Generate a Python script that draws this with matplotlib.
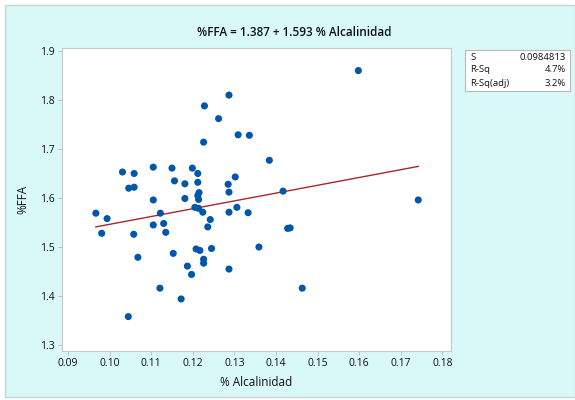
import numpy as np
import matplotlib
matplotlib.use("Agg")
import matplotlib.pyplot as plt
from matplotlib.patches import Rectangle

# data
alcalinidad = [0.1598, 0.1287, 0.1228, 0.1262, 0.1309, 0.1336, 0.1226, 0.1384,
               0.1105, 0.1031, 0.1059, 0.1150, 0.1199, 0.1212, 0.1046, 0.1059,
               0.1156, 0.1181, 0.1212, 0.1302, 0.1285, 0.1105, 0.1181, 0.1215,
               0.1212, 0.1214, 0.1287, 0.0967, 0.0994, 0.1122, 0.1105, 0.1130,
               0.1205, 0.1214, 0.1224, 0.1306, 0.1287, 0.1333, 0.1242, 0.1236,
               0.0981, 0.1058, 0.1135, 0.1068, 0.1153, 0.1121, 0.1172, 0.1045,
               0.1208, 0.1217, 0.1245, 0.1226, 0.1226, 0.1187, 0.1197, 0.1287,
               0.1359, 0.1417, 0.1742, 0.1428, 0.1434, 0.1463]
ffa = [1.860, 1.810, 1.788, 1.762, 1.729, 1.728, 1.714, 1.677,
       1.663, 1.653, 1.650, 1.661, 1.661, 1.650, 1.620, 1.622,
       1.635, 1.629, 1.632, 1.643, 1.628, 1.596, 1.599, 1.611,
       1.605, 1.597, 1.612, 1.569, 1.558, 1.569, 1.545, 1.548,
       1.581, 1.579, 1.571, 1.581, 1.571, 1.570, 1.556, 1.541,
       1.528, 1.526, 1.530, 1.479, 1.487, 1.416, 1.394, 1.358,
       1.496, 1.493, 1.497, 1.475, 1.467, 1.461, 1.444, 1.455,
       1.500, 1.614, 1.596, 1.538, 1.539, 1.416]
intercept = 1.387
slope = 1.593
stats_names = ["S", "R-Sq", "R-Sq(adj)"]
stats_values = ["0.0984813", "4.7%", "3.2%"]
xticks = [0.09, 0.10, 0.11, 0.12, 0.13, 0.14, 0.15, 0.16, 0.17, 0.18]
yticks = [1.3, 1.4, 1.5, 1.6, 1.7, 1.8, 1.9]

plt.rcParams['font.family'] = ['Open Sans', 'DejaVu Sans']

W, H = 575, 400
fig = plt.figure(figsize=(W / 100, H / 100), dpi=100)
fig.patch.set_facecolor('white')
fig.add_artist(Rectangle((5 / W, 3 / H), 1 - 5 / W, 1 - 8 / H, transform=fig.transFigure,
                         facecolor='#D9F8F8', edgecolor='#C8D4D4', lw=1, zorder=0))

ax = fig.add_axes([62 / W, 1 - 351 / H, (451 - 62) / W, (351 - 48) / H])
ax.set_facecolor('white')
for s in ax.spines.values():
    s.set_color('#C8C8C8')
    s.set_linewidth(0.8)

ax.scatter(alcalinidad, ffa, s=26, color='#0056A8', edgecolors='none', zorder=3)
xs = np.array([min(alcalinidad), max(alcalinidad)])
ax.plot(xs, intercept + slope * xs, color='#A8282A', lw=1.0, zorder=2)

ax.set_xlim(0.08856, 0.18207)
ax.set_ylim(1.2878, 1.9061)
ax.set_xticks(xticks)
ax.set_xticklabels(["%.2f" % t for t in xticks])
ax.set_yticks(yticks)
ax.set_yticklabels(["%.1f" % t for t in yticks])
ax.tick_params(labelsize=7.5, colors='#C0C0C0', labelcolor='#111111', length=3, width=0.7, pad=2)

ax.set_xlabel("% Alcalinidad", fontsize=8.5, color='#111111', labelpad=5)
ax.set_ylabel("%FFA", fontsize=8.5, color='#111111', labelpad=8)
fig.text(294 / W, 1 - 32 / H, "%%FFA = %.3f + %.3f %% Alcalinidad" % (intercept, slope),
         ha='center', va='center', fontsize=8.5, fontweight='semibold', color='#111111')

# stats box
fig.add_artist(Rectangle((465 / W, 1 - 91 / H), 105 / W, 41 / H, transform=fig.transFigure,
                         facecolor='white', edgecolor='#B8B8B8', lw=0.8, zorder=1))
for i, (n, v) in enumerate(zip(stats_names, stats_values)):
    y = 1 - (57 + i * 13) / H
    fig.text(470 / W, y, n, ha='left', va='center', fontsize=6.8, color='#111111')
    fig.text(566 / W, y, v, ha='right', va='center', fontsize=6.8, color='#111111')

fig.savefig("out.png", dpi=100)
